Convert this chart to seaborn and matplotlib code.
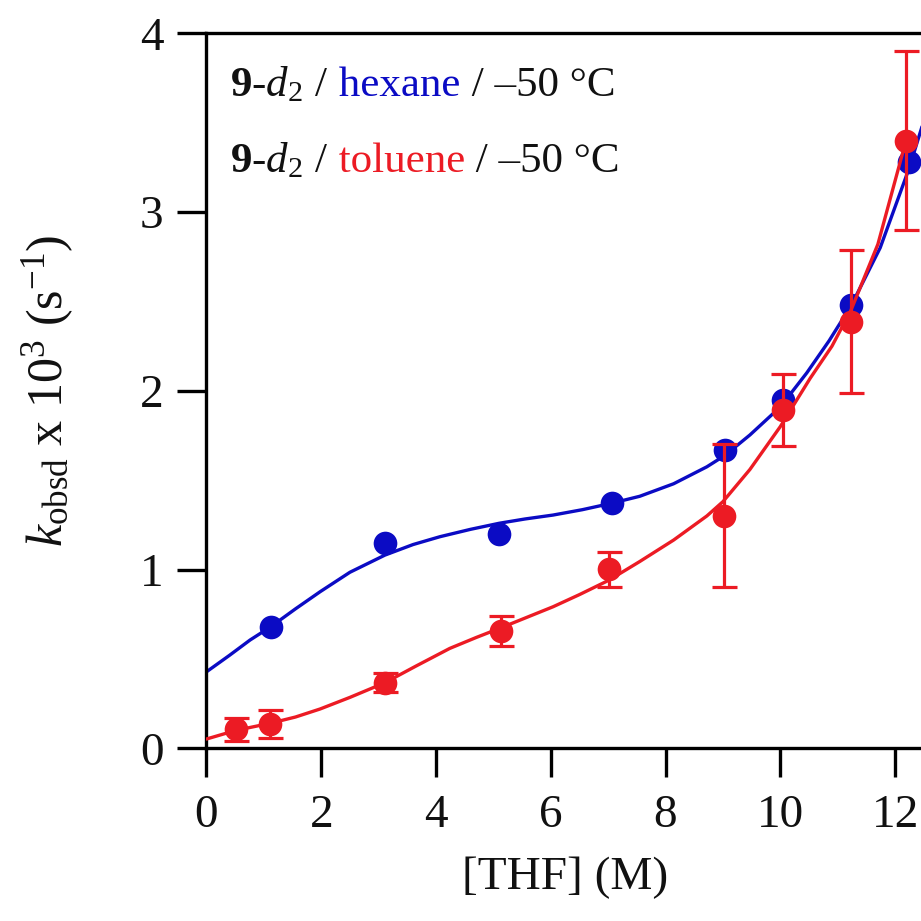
import matplotlib
matplotlib.use("Agg")
import matplotlib.pyplot as plt
import seaborn as sns
from matplotlib.offsetbox import TextArea, HPacker, VPacker, AnchoredOffsetbox

sns.set_theme(style="ticks")
plt.rcParams['font.family'] = ['Liberation Serif', 'DejaVu Serif']
plt.rcParams['mathtext.fontset'] = 'custom'
plt.rcParams['mathtext.rm'] = 'Liberation Serif'
plt.rcParams['mathtext.it'] = 'Liberation Serif:italic'
plt.rcParams['mathtext.bf'] = 'Liberation Serif:bold'

BLUE = '#0b0bc4'
RED = '#ec1b24'

# ---- data ----
hex_x = [1.12, 3.11, 5.10, 7.06, 9.04, 10.04, 11.24, 12.25]
hex_y = [0.68, 1.147, 1.197, 1.371, 1.669, 1.949, 2.48, 3.28]

tol_x = [0.51, 1.11, 3.11, 5.13, 7.01, 9.01, 10.05, 11.23, 12.19]
tol_y = [0.106, 0.136, 0.367, 0.658, 1.001, 1.30, 1.893, 2.387, 3.40]
tol_err = [0.063, 0.076, 0.054, 0.085, 0.10, 0.40, 0.20, 0.40, 0.50]

# fitted curves
hex_fit_x = [0.0, 0.40, 0.76, 1.12, 1.55, 1.98, 2.50, 3.11, 3.60, 4.07, 4.60, 5.10,
             5.55, 6.04, 6.55, 7.06, 7.55, 8.14, 8.72, 9.04, 9.47, 10.00, 10.46,
             10.85, 11.24, 11.74, 12.25, 12.49]
hex_fit_y = [0.428, 0.52, 0.606, 0.68, 0.78, 0.876, 0.985, 1.081, 1.14, 1.184, 1.225, 1.259,
             1.283, 1.305, 1.335, 1.371, 1.41, 1.48, 1.575, 1.64, 1.753, 1.91, 2.10,
             2.28, 2.48, 2.80, 3.25, 3.50]

tol_fit_x = [0.0, 0.51, 1.11, 1.55, 1.98, 2.50, 3.11, 3.65, 4.24, 4.70, 5.13, 5.60,
             6.04, 6.50, 7.01, 7.55, 8.14, 8.72, 9.00, 9.47, 10.00, 10.52, 10.90,
             11.23, 11.70, 12.19]
tol_fit_y = [0.052, 0.10, 0.14, 0.175, 0.22, 0.285, 0.367, 0.46, 0.559, 0.62, 0.674, 0.735,
             0.792, 0.86, 0.94, 1.045, 1.165, 1.30, 1.38, 1.56, 1.80, 2.07, 2.25,
             2.45, 2.82, 3.40]

x_ticks = [0, 2, 4, 6, 8, 10, 12]
y_ticks = [0, 1, 2, 3, 4]

fig = plt.figure(figsize=(9.21, 9.21), dpi=100)
ax = fig.add_axes([0.2242, 0.1875, 1.0024 - 0.2242, 0.9638 - 0.1875])

sns.lineplot(x=hex_fit_x, y=hex_fit_y, color=BLUE, lw=2.4, ax=ax,
             sort=False, estimator=None, zorder=2)
sns.scatterplot(x=hex_x, y=hex_y, color=BLUE, s=290, linewidth=0, ax=ax, zorder=3)
sns.lineplot(x=tol_fit_x, y=tol_fit_y, color=RED, lw=2.4, ax=ax,
             sort=False, estimator=None, zorder=4)
ax.errorbar(tol_x, tol_y, yerr=tol_err, fmt='none', ecolor=RED, elinewidth=2.3,
            capsize=9, capthick=2.3, zorder=5)
sns.scatterplot(x=tol_x, y=tol_y, color=RED, s=290, linewidth=0, ax=ax, zorder=6)

ax.set_xlim(0, 12.49)
ax.set_ylim(0, 4)
ax.set_xticks(x_ticks)
ax.set_yticks(y_ticks)
ax.set_xticklabels([str(t) for t in x_ticks])
ax.set_yticklabels([str(t) for t in y_ticks])

for side in ['left', 'bottom', 'top', 'right']:
    ax.spines[side].set_visible(True)
    ax.spines[side].set_linewidth(2.4)
    ax.spines[side].set_color('black')

ax.tick_params(axis='both', direction='out', length=21, width=2.4, color='black',
               labelsize=34, labelcolor='#111111')
ax.tick_params(axis='x', pad=12)
ax.tick_params(axis='y', pad=10)

ax.set_xlabel('[THF] (M)', fontsize=34, labelpad=14, color='#111111')
ax.set_ylabel(r'$k_{\mathrm{obsd}}$ x 10$^{3}$ (s$^{-1}$)', fontsize=36,
              labelpad=46, color='#111111')

# legend-like text lines
fs = 31
NB = '\u00a0'
def line(solvent, color):
    parts = [
        TextArea(r'$\mathbf{9}$-$d_2$' + NB + '/',
                 textprops=dict(fontsize=fs, color='#111111')),
        TextArea(NB + solvent, textprops=dict(fontsize=fs, color=color)),
        TextArea(NB + '/' + NB + '\u201350' + NB + '\u00b0C',
                 textprops=dict(fontsize=fs, color='#111111')),
    ]
    return HPacker(children=parts, align='baseline', pad=0, sep=0)

box = VPacker(children=[line('hexane', BLUE), line('toluene', RED)],
              align='left', pad=0, sep=26)
anch = AnchoredOffsetbox(loc='upper left', child=box, frameon=False,
                         bbox_to_anchor=(0.033, 0.955), bbox_transform=ax.transAxes,
                         borderpad=0, pad=0)
ax.add_artist(anch)

fig.savefig('out.png', dpi=100)
